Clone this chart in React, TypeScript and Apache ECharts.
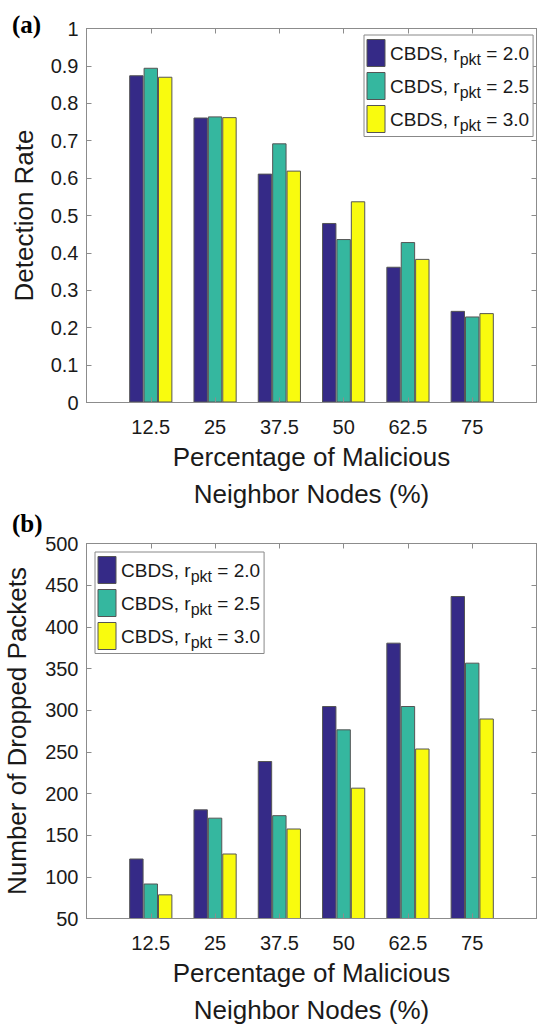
import React, { useEffect, useRef } from 'react';
import * as echarts from 'echarts';

// ---- data ----
const percentages = [12.5, 25, 37.5, 50, 62.5, 75];
const rpktValues = ['2.0', '2.5', '3.0'];
const detection20 = [0.875, 0.762, 0.612, 0.48, 0.363, 0.245];
const detection25 = [0.895, 0.765, 0.693, 0.437, 0.429, 0.23];
const detection30 = [0.871, 0.763, 0.62, 0.538, 0.384, 0.239];
const dropped20 = [122, 181, 239, 305, 381, 437];
const dropped25 = [92, 171, 174, 277, 305, 357];
const dropped30 = [79, 128, 158, 207, 254, 290];
const detectionAxis = { min: 0, max: 1, interval: 0.1 };
const droppedAxis = { min: 50, max: 500, interval: 50 };
const xRange = { min: 0, max: 87.5, interval: 12.5 };
const xName = 'Percentage of Malicious\nNeighbor Nodes (%)';
const yNameTop = 'Detection Rate';
const yNameBottom = 'Number of Dropped Packets';
const panelLabels = ['(a)', '(b)'];

const colors = ['#352A87', '#35B79F', '#F9FB0E'];
const FONT = 'Liberation Sans, Arial, Helvetica, sans-serif';
const AXIS_COLOR = '#8c8c8c';
const TEXT_COLOR = '#1a1a1a';

const seriesNames = rpktValues.map((r) => `CBDS, r_pkt = ${r}`);

export default function App() {
  const ref = useRef<HTMLDivElement>(null);
  useEffect(() => {
    const chart = echarts.init(ref.current!, null, { renderer: 'svg' });

    const xAxisPair = (gridIndex: number) => [
      {
        type: 'value',
        gridIndex,
        position: 'bottom',
        ...xRange,
        z: 3,
        axisLine: { show: true, onZero: false, lineStyle: { color: AXIS_COLOR, width: 1 } },
        axisTick: { show: true, inside: true, length: 5, lineStyle: { color: AXIS_COLOR } },
        axisLabel: {
          formatter: (v: number) => (percentages.includes(v) ? String(v) : ''),
          margin: 14,
          fontSize: 20,
          fontFamily: FONT,
          color: TEXT_COLOR,
        },
        splitLine: { show: false },
        name: xName,
        nameLocation: 'middle',
        nameGap: 36,
        nameTextStyle: { fontSize: 26, lineHeight: 37, fontFamily: FONT, color: TEXT_COLOR },
      },
      {
        type: 'value',
        gridIndex,
        position: 'top',
        ...xRange,
        z: 3,
        axisLine: { show: true, onZero: false, lineStyle: { color: AXIS_COLOR, width: 1 } },
        axisTick: { show: true, inside: true, length: 5, lineStyle: { color: AXIS_COLOR } },
        axisLabel: { show: false },
        splitLine: { show: false },
      },
    ];

    const yAxisPair = (gridIndex: number, range: any, name: string, nameGap: number) => [
      {
        type: 'value',
        gridIndex,
        position: 'left',
        ...range,
        z: 3,
        axisLine: { show: true, onZero: false, lineStyle: { color: AXIS_COLOR, width: 1 } },
        axisTick: { show: true, inside: true, length: 5, lineStyle: { color: AXIS_COLOR } },
        axisLabel: { margin: 8, fontSize: 20, fontFamily: FONT, color: TEXT_COLOR },
        splitLine: { show: false },
        name,
        nameLocation: 'middle',
        nameGap,
        nameTextStyle: { fontSize: 26, fontFamily: FONT, color: TEXT_COLOR },
      },
      {
        type: 'value',
        gridIndex,
        position: 'right',
        ...range,
        z: 3,
        axisLine: { show: true, onZero: false, lineStyle: { color: AXIS_COLOR, width: 1 } },
        axisTick: { show: true, inside: true, length: 5, lineStyle: { color: AXIS_COLOR } },
        axisLabel: { show: false },
        splitLine: { show: false },
      },
    ];

    const barSeries = (values: number[], idx: number, axisIndex: number) => ({
      type: 'bar',
      name: seriesNames[idx],
      xAxisIndex: axisIndex,
      yAxisIndex: axisIndex,
      data: percentages.map((p, i) => [p, values[i]]),
      barWidth: 14.4,
      barGap: '0%',
      itemStyle: { color: colors[idx], borderColor: '#555', borderWidth: 1 },
    });

    const legendBase = {
      orient: 'vertical',
      data: seriesNames,
      icon: 'rect',
      itemWidth: 18,
      itemHeight: 27,
      itemGap: 4.5,
      itemTextGap: 1,
      padding: [4, 4, 3, 2.5],
      borderColor: '#888',
      borderWidth: 1,
      borderRadius: 0,
      backgroundColor: '#fff',
      selectedMode: false,
      itemStyle: { borderColor: '#555', borderWidth: 1 },
      formatter: (name: string) => {
        const r = name.split('= ')[1];
        return `{a|CBDS, r}{s|pkt}{a| = ${r}}`;
      },
      textStyle: {
        fontSize: 19,
        fontFamily: FONT,
        color: TEXT_COLOR,
        rich: {
          a: { fontSize: 19, fontFamily: FONT, color: TEXT_COLOR },
          s: { fontSize: 16, fontFamily: FONT, color: TEXT_COLOR, padding: [13, 0, 0, 0] },
        },
      },
    };

    const panelLabel = (text: string, y: number) => ({
      type: 'text',
      x: 12,
      y,
      style: {
        text,
        fontSize: 25,
        fontWeight: 'bold',
        fontFamily: 'Liberation Serif, Times New Roman, serif',
        fill: '#000',
        verticalAlign: 'middle',
      },
    });

    const option: any = {
      animation: false,
      backgroundColor: '#fff',
      grid: [
        { left: 86.5, top: 28.5, width: 450, height: 374, containLabel: false, outerBoundsMode: 'none' },
        { left: 86.5, top: 543.5, width: 450, height: 375, containLabel: false, outerBoundsMode: 'none' },
      ],
      xAxis: [...xAxisPair(0), ...xAxisPair(1)],
      yAxis: [
        ...yAxisPair(0, detectionAxis, yNameTop, 50),
        ...yAxisPair(1, droppedAxis, yNameBottom, 57),
      ],
      legend: [
        { ...legendBase, left: 364, top: 35 },
        { ...legendBase, left: 95, top: 552 },
      ],
      graphic: [panelLabel(panelLabels[0], 24), panelLabel(panelLabels[1], 523)],
      series: [
        barSeries(detection20, 0, 0),
        barSeries(detection25, 1, 0),
        barSeries(detection30, 2, 0),
        barSeries(dropped20, 0, 2),
        barSeries(dropped25, 1, 2),
        barSeries(dropped30, 2, 2),
      ],
    };

    chart.setOption(option);
    return () => chart.dispose();
  }, []);

  return (
    <div
      ref={ref}
      style={{ position: 'absolute', left: 0, top: 0, width: 538, height: 1025, background: '#fff' }}
    />
  );
}
